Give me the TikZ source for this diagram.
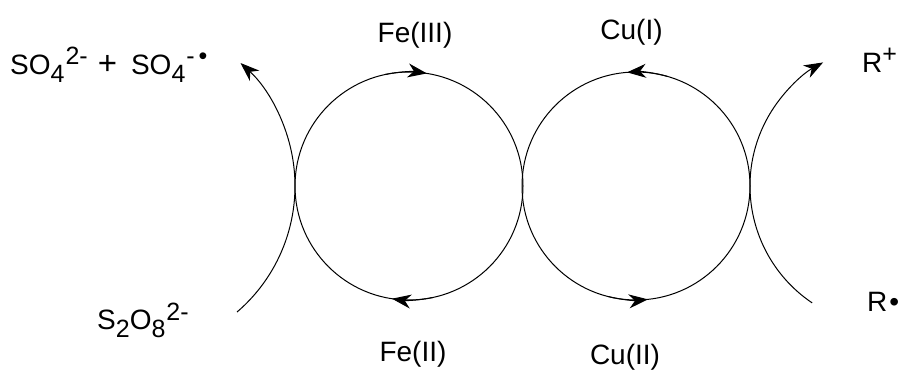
\documentclass[tikz,border=0pt]{standalone}
\usepackage{fontspec}
\setmainfont{Liberation Sans}
\usetikzlibrary{arrows.meta}
\newcommand{\chsub}[1]{\raisebox{-8pt}{\fontsize{25}{25}\selectfont #1}}
\newcommand{\chsup}[1]{\raisebox{10pt}{\fontsize{25}{25}\selectfont #1}}
\begin{document}
\begin{tikzpicture}[x=1pt,y=1pt,
  line/.style={line width=1pt, black},
  tip/.style={-{Stealth[length=19pt,width=14pt,inset=6pt]}},
  lbl/.style={font=\fontsize{28}{28}\selectfont, inner sep=0pt, anchor=base},
  lbll/.style={lbl, anchor=base west},
]
\useasboundingbox (0,0) rectangle (904,372);
\coordinate (fe) at (409,186);
\coordinate (cu) at (636,186);
\coordinate (lc) at (129,186);
\coordinate (rc) at (891,186);
% cycles
\draw[line] (fe) circle[radius=114];
\draw[line] (cu) circle[radius=114];
\draw[line,tip] ([shift={(102:114)}]fe) arc[start angle=102,end angle=81,radius=114];
\draw[line,tip] ([shift={(282:114)}]fe) arc[start angle=282,end angle=261.4,radius=114];
\draw[line,tip] ([shift={(74:114)}]cu) arc[start angle=74,end angle=94.5,radius=114];
\draw[line,tip] ([shift={(256:114)}]cu) arc[start angle=256,end angle=276,radius=114];
% outer arcs
\draw[line,tip] ([shift={(-49.4:166)}]lc) arc[start angle=-49.4,end angle=47.8,radius=166];
\draw[line,tip] ([shift={(236:141)}]rc) arc[start angle=236,end angle=118.8,radius=141];
% labels
\node[lbl] (fe3) at (415,329) {Fe(III)};
\node[lbl] (cu1) at (631.5,332) {Cu(I)};
\node[lbl] (fe2) at (413,11) {Fe(II)};
\node[lbl] (cu2) at (625,8) {Cu(II)};
\node[lbll] (so4) at (10,297) {SO\chsub{4}\hspace{1pt}\chsup{2-}\hspace{10pt}{\fontsize{33}{33}\selectfont +}\hspace{14pt}SO\chsub{4}\hspace{1pt}\chsup{-\hspace{4pt}•}};
\node[lbll] (s2o8) at (97,42) {S\chsub{2}O\chsub{8}\hspace{1pt}\chsup{2-}};
\node[lbll] (rp) at (862,299) {R\chsup{+}};
\node[lbll] (rr) at (867,60) {R\hspace{2pt}•};
\end{tikzpicture}
\end{document}
